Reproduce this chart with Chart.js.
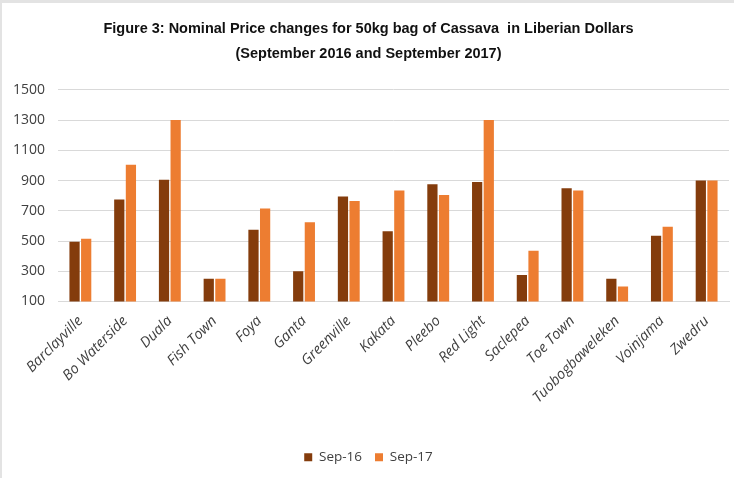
<!DOCTYPE html>
<html>
<head>
<meta charset="utf-8">
<script src="https://cdn.jsdelivr.net/npm/chart.js@4.4.0/dist/chart.umd.min.js"></script>
<style>
  body { margin: 0; background: #fff; }
  .wrap { width: 734px; height: 478px; position: relative; box-sizing: border-box; border-top: 3px solid #e3e3e3; border-left: 2px solid #e3e3e3; }
</style>
</head>
<body>
<div class="wrap">
  <canvas class="chart" width="732" height="475"></canvas>
</div>
<script>
const towns = ['Barclayville', 'Bo Waterside', 'Duala', 'Fish Town', 'Foya', 'Ganta', 'Greenville', 'Kakata',
  'Pleebo', 'Red Light', 'Saclepea', 'Toe Town', 'Tuobogbaweleken', 'Voinjama', 'Zwedru']
const sep16 = [495, 775, 905, 250, 575, 300, 795, 565, 875, 890, 275, 850, 250, 535, 900]
const sep17 = [515, 1005, 1300, 250, 715, 625, 765, 835, 805, 1300, 435, 835, 200, 595, 900]
const seriesNames = ['Sep-16', 'Sep-17']
const titleLines = ['Figure 3: Nominal Price changes for 50kg bag of Cassava  in Liberian Dollars',
  '(September 2016 and September 2017)']

const ctx = document.querySelector('.chart').getContext('2d')

const textFont = "'Open Sans', 'Noto Sans', sans-serif"

const data = {
  labels: towns,
  datasets: [{
    label: seriesNames[0],
    data: sep16,
    backgroundColor: '#843C0C',
    categoryPercentage: 0.52,
    barPercentage: 0.88
  }, {
    label: seriesNames[1],
    data: sep17,
    backgroundColor: '#ED7D31',
    categoryPercentage: 0.52,
    barPercentage: 0.88
  }]
}

const options = {
  responsive: false,
  animation: false,
  layout: {
    padding: { left: 6, right: 5, top: 0, bottom: 4 }
  },
  plugins: {
    title: {
      display: true,
      text: titleLines,
      color: '#111',
      font: { family: "'Liberation Sans Narrow', 'Liberation Sans', sans-serif", size: 14.5, weight: 'bold', lineHeight: 1.72 },
      padding: { top: 14, bottom: 23 }
    },
    legend: {
      position: 'bottom',
      labels: {
        boxWidth: 8,
        boxHeight: 8,
        padding: 13,
        color: '#404040',
        font: { family: textFont, size: 13.5 }
      }
    },
    tooltip: { enabled: false }
  },
  scales: {
    x: {
      grid: { display: false },
      border: { display: true, color: '#d9d9d9', width: 1 },
      ticks: {
        minRotation: 45,
        maxRotation: 45,
        padding: 3,
        color: '#404040',
        font: { family: textFont, size: 14.5, style: 'italic' }
      },
      afterFit: function(scale) { scale.height = 136 }
    },
    y: {
      min: 100,
      max: 1500,
      grid: { color: '#d9d9d9', drawTicks: false },
      border: { display: false },
      ticks: {
        stepSize: 200,
        padding: 13,
        color: '#404040',
        font: { family: textFont, size: 14 },
        callback: function(value) { return String(value) }
      },
      afterFit: function(scale) { scale.width = 50 }
    }
  }
}

const myChart = new Chart(ctx, {
  type: 'bar',
  data,
  options
})
</script>
</body>
</html>
